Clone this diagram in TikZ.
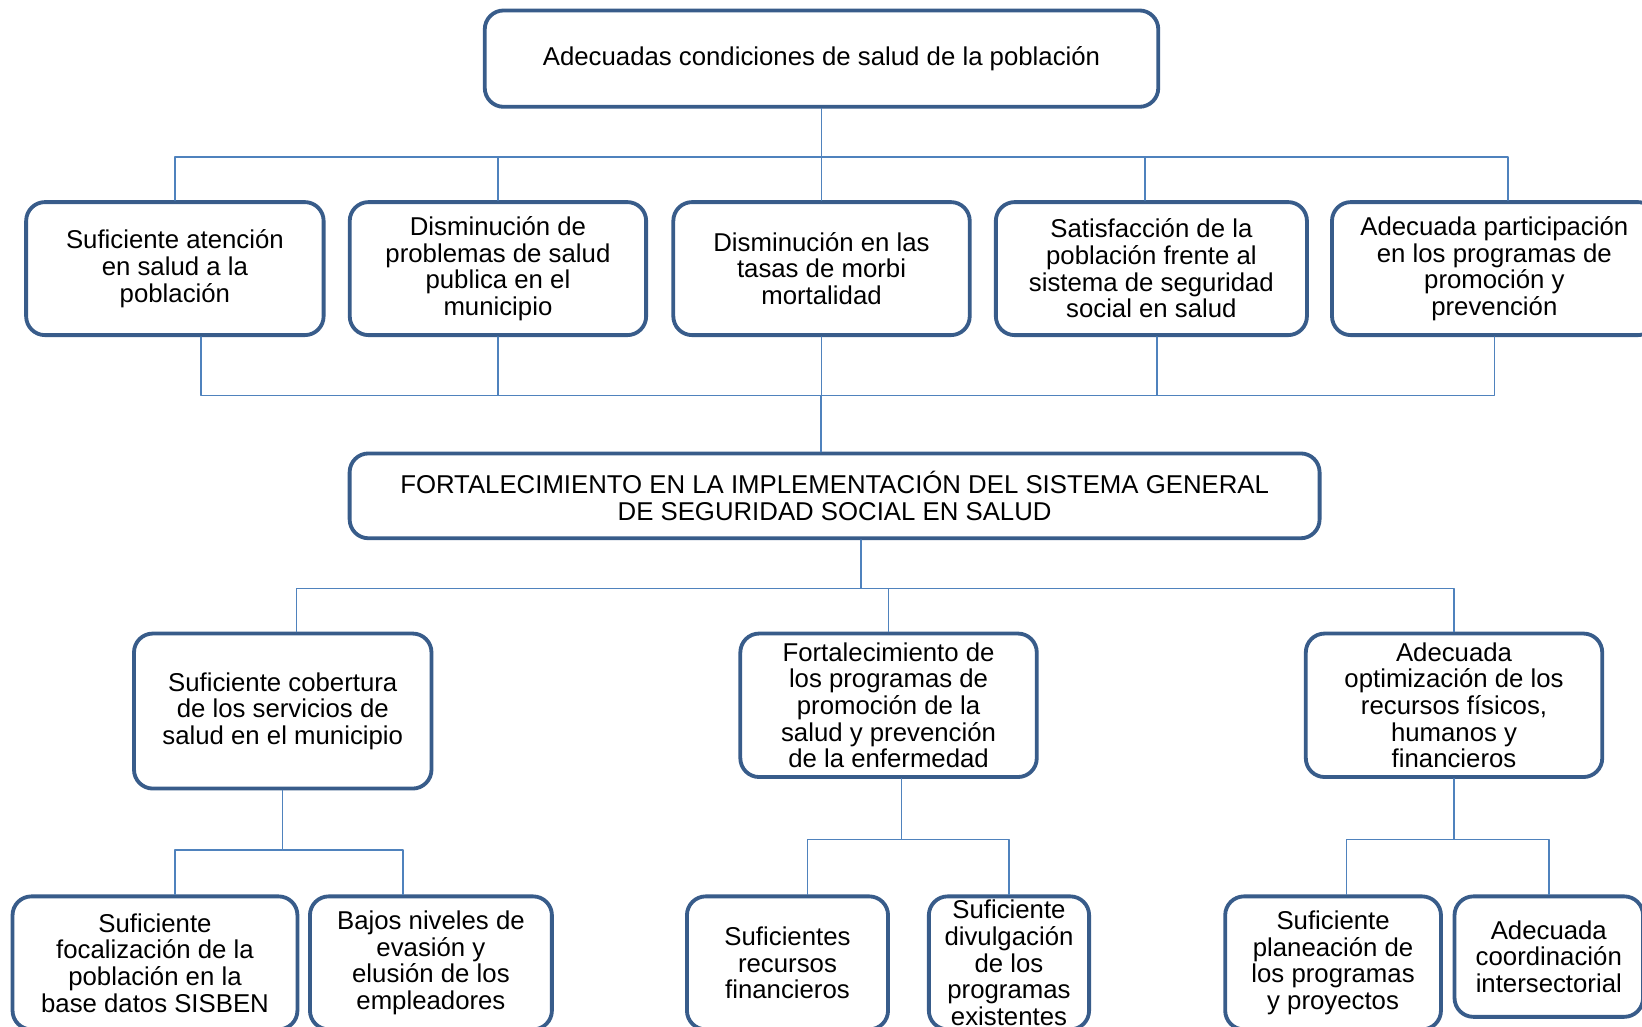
\documentclass[tikz,border=0pt]{standalone}
\usepackage{fontspec}
\setmainfont{Liberation Sans}
\definecolor{ttwwzz}{rgb}{0.22,0.36,0.54}
\definecolor{wwzzcc}{rgb}{0.31,0.51,0.74}
\tikzset{caja/.style={draw=ttwwzz,line width=2.6pt,rounded corners=0.45cm,fill=white,align=center,inner sep=0pt,font=\fontsize{17.5}{18.1}\selectfont},
conector/.style={draw=wwzzcc,line width=1pt}}
\begin{document}
\begin{tikzpicture}[line cap=round,line join=round,x=0.025cm,y=-0.025cm]
\useasboundingbox (0,0) rectangle (1568,980);
\clip (0,0) rectangle (1568,980);
\fill[white] (0,0) rectangle (1568,980);
% nivel superior
\node[caja,minimum width=16.075cm,minimum height=2.3cm] (top) at (784.5,56) {Adecuadas condiciones de salud de la población};
\node[caja,minimum width=7.1cm,minimum height=3.175cm] (b1) at (167,256.5) {Suficiente atención\\en salud a la\\población};
\node[caja,minimum width=7.075cm,minimum height=3.175cm] (b2) at (475.5,256.5) {Disminución de\\problemas de salud\\publica en el\\municipio};
\node[caja,minimum width=7.075cm,minimum height=3.175cm] (b3) at (784.5,256.5) {Disminución en las\\tasas de morbi\\mortalidad};
\node[caja,minimum width=7.425cm,minimum height=3.175cm] (b4) at (1099.5,256.5) {Satisfacción de la\\población frente al\\sistema de seguridad\\social en salud};
\node[caja,minimum width=7.75cm,minimum height=3.175cm] (b5) at (1427,256.5) {Adecuada participación\\en los programas de\\promoción y\\prevención};
% problema central
\node[caja,minimum width=23.15cm,minimum height=2.025cm] (mid) at (797,473.5) {FORTALECIMIENTO EN LA IMPLEMENTACIÓN DEL SISTEMA GENERAL\\DE SEGURIDAD SOCIAL EN SALUD};
% medios
\node[caja,minimum width=7.1cm,minimum height=3.7cm] (c1) at (270,679) {Suficiente cobertura\\de los servicios de\\salud en el municipio};
\node[caja,minimum width=7.075cm,minimum height=3.425cm] (c2) at (848.5,673.5) {Fortalecimiento de\\los programas de\\promoción de la\\salud y prevención\\de la enfermedad};
\node[caja,minimum width=7.075cm,minimum height=3.425cm] (c3) at (1388.5,673.5) {Adecuada\\optimización de los\\recursos físicos,\\humanos y\\financieros};
\node[caja,minimum width=6.8cm,minimum height=3.175cm] (d1) at (148,919.5) {Suficiente\\focalización de la\\población en la\\base datos SISBEN};
\node[caja,minimum width=5.775cm,minimum height=3.175cm] (d2) at (411.5,919.5) {Bajos niveles de\\evasión y\\elusión de los\\empleadores};
\node[caja,minimum width=4.8cm,minimum height=3.175cm] (d3) at (752,919.5) {Suficientes\\recursos\\financieros};
\node[caja,minimum width=3.825cm,minimum height=3.175cm] (d4) at (963.5,919.5) {Suficiente\\divulgación\\de los\\programas\\existentes};
\node[caja,minimum width=5.15cm,minimum height=3.175cm] (d5) at (1273,919.5) {Suficiente\\planeación de\\los programas\\y proyectos};
\node[caja,minimum width=4.5cm,minimum height=2.875cm] (d6) at (1479,913.5) {Adecuada\\coordinación\\intersectorial};
% conectores
\draw[conector] (top.south) -- ++(0,46) -| (b1.north);
\draw[conector] (top.south) -- ++(0,46) -| (b2.north);
\draw[conector] (top.south) -- ++(0,46) -| (b3.north);
\draw[conector] (top.south) -- ++(0,46) -| ([xshift=-0.15cm]b4.north);
\draw[conector] (top.south) -- ++(0,46) -| ([xshift=0.325cm]b5.north);
\draw[conector] ([xshift=0.625cm]b1.south) -- ++(0,56) -| ([xshift=-0.325cm]mid.north);
\draw[conector] (b2.south) -- ++(0,56) -| ([xshift=-0.325cm]mid.north);
\draw[conector] (b3.south) -- ++(0,56) -| ([xshift=-0.325cm]mid.north);
\draw[conector] ([xshift=0.1375cm]b4.south) -- ++(0,56) -| ([xshift=-0.325cm]mid.north);
\draw[conector] (b5.south) -- ++(0,56) -| ([xshift=-0.325cm]mid.north);
\draw[conector] ([xshift=0.625cm]mid.south) -- ++(0,46) -| ([xshift=0.325cm]c1.north);
\draw[conector] ([xshift=0.625cm]mid.south) -- ++(0,46) -| (c2.north);
\draw[conector] ([xshift=0.625cm]mid.south) -- ++(0,46) -| (c3.north);
\draw[conector] (c1.south) -- ++(0,57) -| ([xshift=0.475cm]d1.north);
\draw[conector] (c1.south) -- ++(0,57) -| ([xshift=-0.6625cm]d2.north);
\draw[conector] ([xshift=0.3125cm]c2.south) -- ++(0,58) -| ([xshift=0.475cm]d3.north);
\draw[conector] ([xshift=0.3125cm]c2.south) -- ++(0,58) -| (d4.north);
\draw[conector] (c3.south) -- ++(0,58) -| ([xshift=0.325cm]d5.north);
\draw[conector] (c3.south) -- ++(0,58) -| (d6.north);
\end{tikzpicture}
\end{document}
